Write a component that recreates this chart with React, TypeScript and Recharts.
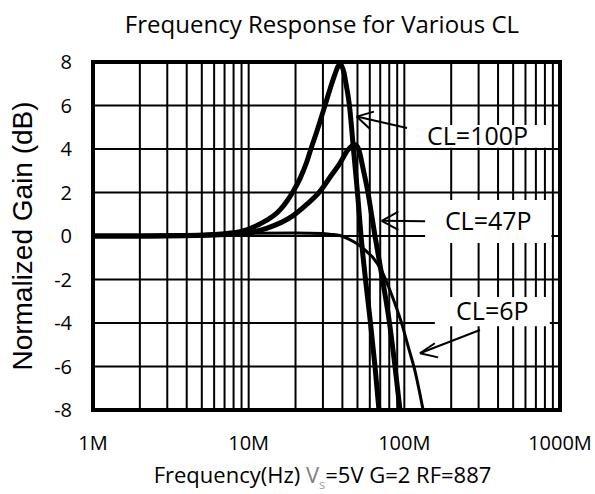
import React from 'react';
import { LineChart, Line, XAxis, YAxis, ReferenceLine, ReferenceArea } from 'recharts';

// Frequencies in MHz, normalized gain in dB
const FREQ_100P = [1, 2, 3, 5, 5.9, 8.8, 11.8, 15.9, 17.6, 19.3, 21.4, 23.6, 25.1, 27.1, 28.7, 30.9, 33.3, 35.9, 37.5, 38.6, 41, 42.2, 44.4, 45.8, 47.1, 50, 52.7, 56.3, 60.6, 64.8, 68.7];
const GAIN_100P = [0, 0, 0.01, 0.04, 0.07, 0.2, 0.55, 1.2, 1.6, 2.05, 2.65, 3.4, 4.0, 4.7, 5.25, 6.0, 6.75, 7.45, 7.8, 7.9, 7.5, 7.0, 6.0, 5.0, 4.0, 2.0, 0, -2, -4, -6, -8];

const FREQ_47P = [1, 2, 4.87, 8.8, 13, 19.4, 23.6, 28.7, 33.3, 38.6, 43.3, 48.2, 50.8, 54.7, 58.4, 61.5, 64.8, 72.4, 80.3, 87.1, 93.8];
const GAIN_47P = [0, 0, 0.03, 0.1, 0.35, 0.95, 1.45, 2.05, 2.7, 3.35, 3.95, 4.2, 4.0, 3.0, 2.0, 1.0, 0, -2, -4, -6, -8];

const FREQ_6P = [1, 3, 6, 10, 20, 30, 33.3, 38.6, 42.6, 47, 52, 57, 63, 71.5, 78.8, 87, 96, 106, 117, 132];
const GAIN_6P = [0, 0.03, 0.08, 0.12, 0.14, 0.12, 0.08, 0.02, -0.1, -0.25, -0.45, -0.7, -1.0, -1.6, -2.3, -3.1, -4.0, -5.1, -6.2, -8];

const X_TICKS = [1, 10, 100, 1000];
const X_TICK_LABELS = ['1M', '10M', '100M', '1000M'];
const Y_TICKS = [-8, -6, -4, -2, 0, 2, 4, 6, 8];
const X_GRID = [2, 3, 4, 5, 6, 7, 8, 9, 10, 20, 30, 40, 50, 60, 70, 80, 90, 100, 200, 300, 400, 500, 600, 700, 800, 900];
const Y_GRID = [-6, -4, -2, 0, 2, 4, 6];

// Annotation boxes (data coords: MHz, dB)
const BOX_LABELS = ['CL=100P', 'CL=47P', 'CL=6P'];
const BOX_X = [[104, 840], [136, 880], [157, 860]];
const BOX_Y = [[4.06, 5.1], [-0.32, 1.66], [-4.15, -2.8]];

// Arrow segments: [tail, tip, arm1, arm2] as [MHz, dB]
const ARROW_100P = [[104, 4.97], [49.4, 5.49], [63.8, 5.72], [60.2, 4.92]];
const ARROW_47P = [[136, 0.68], [71.6, 0.7], [91.5, 1.12], [91.5, 0.28]];
const ARROW_6P = [[306, -4.32], [126, -5.39], [165, -5.58], [157, -4.93]];

const toPoints = (fs: number[], gs: number[]) => fs.map((f, i) => ({ f, g: gs[i] }));
const data100 = toPoints(FREQ_100P, GAIN_100P);
const data47 = toPoints(FREQ_47P, GAIN_47P);
const data6 = toPoints(FREQ_6P, GAIN_6P);

const CAL = '"Open Sans", "Noto Sans", sans-serif';

const XTick = (props: any) => {
  const { x, y, payload } = props;
  const idx = X_TICKS.indexOf(payload.value);
  return (
    <text x={x} y={y + 40} textAnchor="middle" fontFamily={CAL} fontSize={20} fill="#000">
      {X_TICK_LABELS[idx]}
    </text>
  );
};

const YTick = (props: any) => {
  const { x, y, payload } = props;
  return (
    <text x={x - 21} y={y + 7} textAnchor="end" fontFamily={CAL} fontSize={20} fill="#000">
      {payload.value}
    </text>
  );
};

const XTitle = (props: any) => {
  const vb = props.viewBox || { x: 93, y: 410, width: 467, height: 84 };
  const cx = vb.x + vb.width / 2 - 4;
  return (
    <text x={cx} y={vb.y + 73} textAnchor="middle" fontFamily={CAL} fontSize={22} fill="#000">
      <tspan>Frequency(Hz) </tspan>
      <tspan fill="#808080">V</tspan>
      <tspan fill="#a0a0a0" fontSize={13} dy={6}>s</tspan>
      <tspan dy={-6}>=5V G=2 RF=887</tspan>
    </text>
  );
};

const YTitle = (props: any) => {
  const vb = props.viewBox || { x: 0, y: 62, width: 93, height: 348 };
  const cx = 22;
  const cy = vb.y + vb.height / 2;
  return (
    <text
      x={cx}
      y={cy}
      transform={`rotate(-90 ${cx} ${cy})`}
      textAnchor="middle"
      dominantBaseline="central"
      fontFamily='"Liberation Sans", Arial, sans-serif'
      fontSize={28}
      fill="#000"
    >
      Normalized Gain (dB)
    </text>
  );
};

const arrowLines = (arr: number[][], key: string) => {
  const [tail, tip, a1, a2] = arr;
  const segs = [
    [tail, tip],
    [tip, a1],
    [tip, a2],
  ];
  return segs.map((s, i) => (
    <ReferenceLine
      key={`${key}-${i}`}
      segment={[
        { x: s[0][0], y: s[0][1] },
        { x: s[1][0], y: s[1][1] },
      ]}
      stroke="#000"
      strokeWidth={2}
      zIndex={700}
    />
  ));
};

export default function App() {
  return (
    <div style={{ position: 'absolute', left: 0, top: 0, width: 595, height: 494, background: '#fff' }}>
      <LineChart width={595} height={494} margin={{ top: 62, right: 35, bottom: 0, left: 0 }}>
        <XAxis
          dataKey="f"
          type="number"
          scale="log"
          domain={[1, 1000]}
          ticks={X_TICKS}
          allowDataOverflow
          axisLine={false}
          tickLine={false}
          tickSize={0}
          tickMargin={0}
          height={84}
          tick={<XTick />}
          label={{ content: <XTitle /> } as any}
        />
        <YAxis
          type="number"
          domain={[-8, 8]}
          ticks={Y_TICKS}
          allowDataOverflow
          axisLine={false}
          tickLine={false}
          tickSize={0}
          tickMargin={0}
          width={93}
          tick={<YTick />}
          label={{ content: <YTitle /> } as any}
        />
        {X_GRID.map((v) => (
          <ReferenceLine key={`gx${v}`} x={v} stroke="#000" strokeWidth={2} zIndex={100} />
        ))}
        {Y_GRID.map((v) => (
          <ReferenceLine key={`gy${v}`} y={v} stroke="#000" strokeWidth={2} zIndex={100} />
        ))}
        <Line data={data6} dataKey="g" type="monotone" stroke="#000" strokeWidth={3} dot={false} isAnimationActive={false} zIndex={400} />
        <Line data={data47} dataKey="g" type="monotone" stroke="#000" strokeWidth={5} dot={false} isAnimationActive={false} zIndex={400} />
        <Line data={data100} dataKey="g" type="monotone" stroke="#000" strokeWidth={5} dot={false} isAnimationActive={false} zIndex={400} />
        {BOX_LABELS.map((lab, i) => (
          <ReferenceArea
            key={lab}
            x1={BOX_X[i][0]}
            x2={BOX_X[i][1]}
            y1={BOX_Y[i][0]}
            y2={BOX_Y[i][1]}
            fill="#fff"
            fillOpacity={1}
            stroke="none"
            zIndex={600}
            label={{ value: lab, position: 'center', fontSize: 25, fill: '#000', fontFamily: CAL }}
          />
        ))}
        {arrowLines(ARROW_100P, 'a100')}
        {arrowLines(ARROW_47P, 'a47')}
        {arrowLines(ARROW_6P, 'a6')}
        <ReferenceArea x1={1} x2={1000} y1={-8} y2={8} fill="none" stroke="#000" strokeWidth={4} zIndex={800} />
      </LineChart>
      <svg width={595} height={60} style={{ position: 'absolute', left: 0, top: 0, pointerEvents: 'none' }}>
        <text x={322} y={33} textAnchor="middle" fontFamily={CAL} fontSize={24} fill="#000">
          Frequency Response for Various CL
        </text>
      </svg>
    </div>
  );
}
